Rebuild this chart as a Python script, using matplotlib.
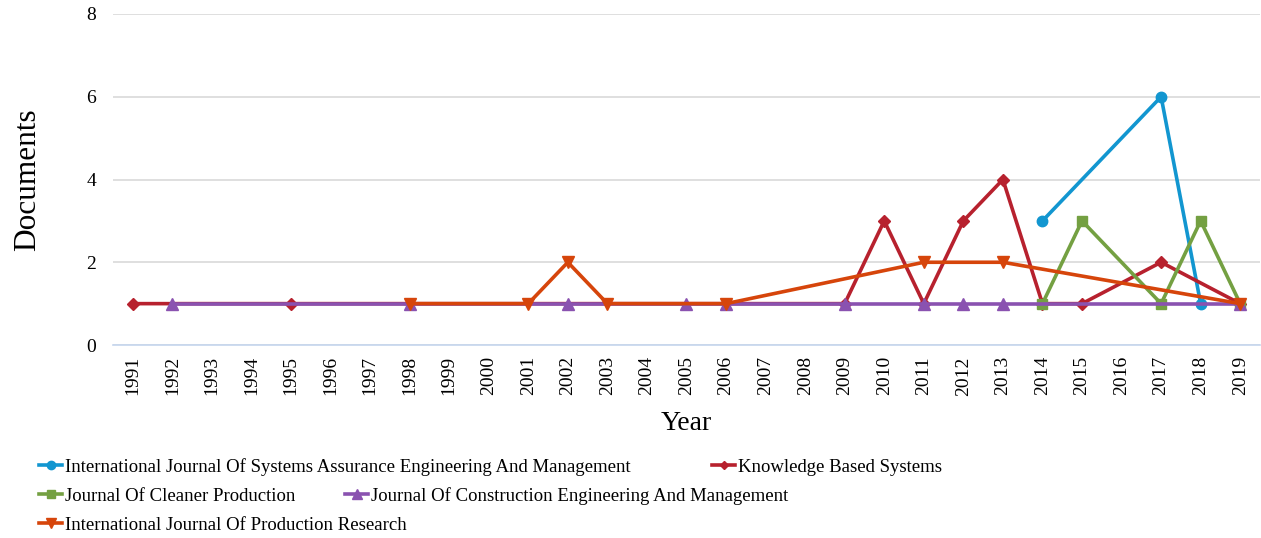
import matplotlib
matplotlib.use("Agg")
import matplotlib.pyplot as plt
from matplotlib.lines import Line2D

plt.rcParams['font.family'] = ['Liberation Serif', 'DejaVu Serif']

years = list(range(1991, 2020))

ijsaem_years = [2014, 2017, 2018]
ijsaem_docs = [3, 6, 1]

kbs_years = [1991, 1995, 2009, 2010, 2011, 2012, 2013, 2014, 2015, 2017, 2019]
kbs_docs = [1, 1, 1, 3, 1, 3, 4, 1, 1, 2, 1]

jcp_years = [2014, 2015, 2017, 2018, 2019]
jcp_docs = [1, 3, 1, 3, 1]

jcem_years = [1992, 1998, 2002, 2005, 2006, 2009, 2011, 2012, 2013, 2019]
jcem_docs = [1, 1, 1, 1, 1, 1, 1, 1, 1, 1]

ijpr_years = [1998, 2001, 2002, 2003, 2006, 2011, 2013, 2019]
ijpr_docs = [1, 1, 2, 1, 1, 2, 2, 1]

series = [
    ("International Journal Of Systems Assurance Engineering And Management",
     ijsaem_years, ijsaem_docs, "#1296d0", "o", 7.5),
    ("Knowledge Based Systems", kbs_years, kbs_docs, "#b7212e", "D", 6),
    ("Journal Of Cleaner Production", jcp_years, jcp_docs, "#74a042", "s", 7.5),
    ("Journal Of Construction Engineering And Management",
     jcem_years, jcem_docs, "#8a52b0", "^", 8),
    ("International Journal Of Production Research",
     ijpr_years, ijpr_docs, "#d6450b", "v", 8),
]

fig = plt.figure(figsize=(12.61, 5.38), dpi=100)
ax = fig.add_axes([0.0896, 0.3587, 0.9096, 0.6153])

handles = []
for i, (name, yrs, docs, color, marker, ms) in enumerate(series):
    xs = [years.index(y) for y in yrs]
    h, = ax.plot(xs, docs, color=color, marker=marker, markersize=ms,
                 linewidth=2.6, label=name, zorder=3 + i,
                 solid_joinstyle='miter')
    handles.append(h)

ax.set_xlim(-0.5, len(years) - 0.5)
ax.set_ylim(0, 8)
ax.set_yticks([0, 2, 4, 6, 8])
ax.set_xticks(range(len(years)))
ax.set_xticklabels([str(y) for y in years], rotation=90, fontsize=14)
ax.tick_params(axis='y', labelsize=14, length=0, pad=12)
ax.tick_params(axis='x', length=0, pad=8)
ax.grid(axis='y', color='#d9d9d9', linewidth=1.2)
ax.set_axisbelow(True)
for s in ['top', 'right', 'left']:
    ax.spines[s].set_visible(False)
ax.spines['bottom'].set_color('#c5d6ee')
ax.spines['bottom'].set_linewidth(1.2)

ax.set_ylabel("Documents", fontsize=22.5, labelpad=32)
ax.set_xlabel("Year", fontsize=20, labelpad=11)

# legend laid out as flowing rows beneath the axes
W, H = 1261, 538
placements = [(0, 39, 467), (1, 712, 467), (2, 39, 496), (3, 345, 496), (4, 39, 525)]
for idx, px, py in placements:
    h = handles[idx]
    proxy = Line2D([], [], color=h.get_color(), marker=h.get_marker(),
                   markersize=h.get_markersize() - 1.5, linewidth=2.6)
    fig.legend([proxy], [h.get_label()], loc='center left',
               bbox_to_anchor=(px / W, 1 - py / H), frameon=False,
               fontsize=13.5, handlelength=1.25, handletextpad=0.15,
               borderpad=0, borderaxespad=0)

fig.savefig("out.png", dpi=100)
